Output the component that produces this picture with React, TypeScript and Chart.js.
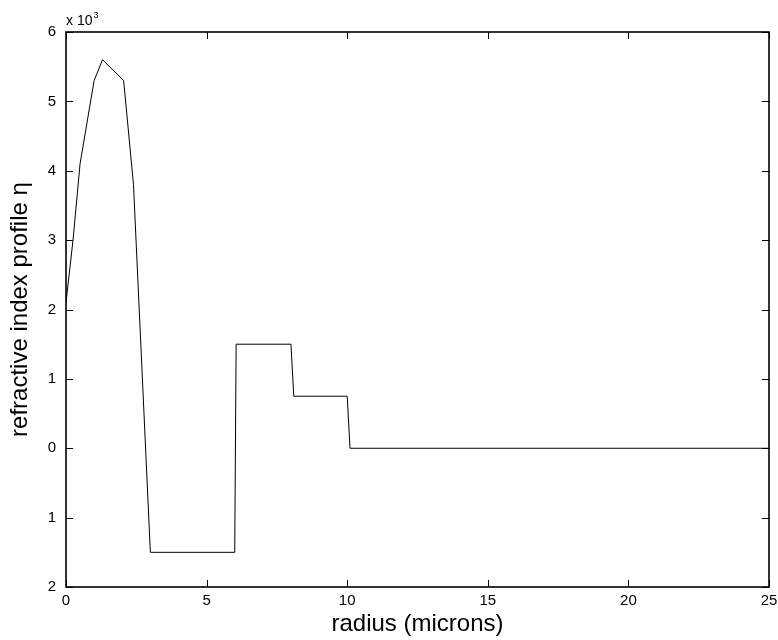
import React, { useEffect, useRef } from "react";
import { Chart, registerables } from "chart.js";

Chart.register(...registerables);

// radius in microns
const radius = [0, 0.25, 0.5, 1.0, 1.3, 2.05, 2.4, 3.0, 6.0, 6.05, 8.0, 8.1, 10.0, 10.1, 25];
// refractive index profile (x 10^3 as displayed)
const eta = [2.1, 3.0, 4.1, 5.3, 5.6, 5.3, 3.8, -1.5, -1.5, 1.5, 1.5, 0.75, 0.75, 0, 0];

const xTicks = [0, 5, 10, 15, 20, 25];
const yTicks = [-2, -1, 0, 1, 2, 3, 4, 5, 6];
const xTitle = "radius (microns)";
const yTitle = "refractive index profile η";
const exponentBase = "x 10";
const exponent = "3";

const FONT = "'Liberation Sans', Arial, Helvetica, sans-serif";

const framePlugin = {
  id: "frame",
  afterDatasetsDraw(chart: any) {
    const { ctx, chartArea, scales } = chart;
    const { left, right, top, bottom } = chartArea;
    const x = scales.x;
    const y = scales.y;
    ctx.save();
    ctx.strokeStyle = "#000";
    ctx.lineWidth = 1;
    ctx.beginPath();
    for (const v of xTicks) {
      const px = Math.round(x.getPixelForValue(v)) + 0.5;
      ctx.moveTo(px, bottom);
      ctx.lineTo(px, bottom - 7);
      ctx.moveTo(px, top);
      ctx.lineTo(px, top + 7);
    }
    for (const v of yTicks) {
      const py = Math.round(y.getPixelForValue(v)) + 0.5;
      ctx.moveTo(left, py);
      ctx.lineTo(left + 7, py);
      ctx.moveTo(right, py);
      ctx.lineTo(right - 7, py);
    }
    ctx.stroke();
    ctx.lineWidth = 1.6;
    ctx.strokeRect(left, top, right - left, bottom - top);

    ctx.fillStyle = "#000";
    ctx.textAlign = "left";
    ctx.textBaseline = "alphabetic";
    ctx.font = `14px ${FONT}`;
    ctx.fillText(exponentBase, left, 25);
    const w = ctx.measureText(exponentBase).width;
    ctx.font = `9px ${FONT}`;
    ctx.fillText(exponent, left + w + 1, 18);
    ctx.restore();
  },
};

export default function App() {
  const ref = useRef<HTMLCanvasElement | null>(null);

  useEffect(() => {
    if (!ref.current) return;
    const points = radius.map((r, i) => ({ x: r, y: eta[i] }));
    const chart = new Chart(ref.current, {
      type: "line",
      data: {
        datasets: [
          {
            data: points,
            borderColor: "#000",
            borderWidth: 1,
            pointRadius: 0,
            tension: 0,
            fill: false,
          },
        ],
      },
      options: {
        animation: false,
        responsive: false,
        maintainAspectRatio: false,
        layout: { padding: { top: 32, right: 9, left: 0, bottom: 0 } },
        plugins: { legend: { display: false }, tooltip: { enabled: false } },
        scales: {
          x: {
            type: "linear",
            min: 0,
            max: 25,
            grid: { display: false, drawTicks: false },
            border: { display: false },
            ticks: {
              stepSize: 5,
              padding: 5,
              color: "#000",
              maxRotation: 0,
              font: { family: FONT, size: 15 },
            },
            title: {
              display: true,
              text: xTitle,
              color: "#000",
              font: { family: FONT, size: 24 },
              padding: { top: 0, bottom: 1 },
            },
            afterFit: (s: any) => {
              s.height = 53;
              s.paddingLeft = 0;
              s.paddingRight = 0;
            },
          },
          y: {
            type: "linear",
            min: -2,
            max: 6,
            grid: { display: false, drawTicks: false },
            border: { display: false },
            ticks: {
              stepSize: 1,
              padding: 10,
              color: "#000",
              font: { family: FONT, size: 15 },
              callback: (v: any) => String(Math.abs(Number(v))),
            },
            title: {
              display: true,
              text: yTitle,
              color: "#000",
              font: { family: FONT, size: 24 },
              padding: { top: 6, bottom: 0 },
            },
            afterFit: (s: any) => {
              s.width = 66;
              s.paddingTop = 0;
              s.paddingBottom = 0;
            },
          },
        },
      },
      plugins: [framePlugin],
    });
    return () => chart.destroy();
  }, []);

  return (
    <div style={{ position: "absolute", left: 0, top: 0, width: 778, height: 640, background: "#fff" }}>
      <canvas ref={ref} width={778} height={640} style={{ display: "block" }} />
    </div>
  );
}
